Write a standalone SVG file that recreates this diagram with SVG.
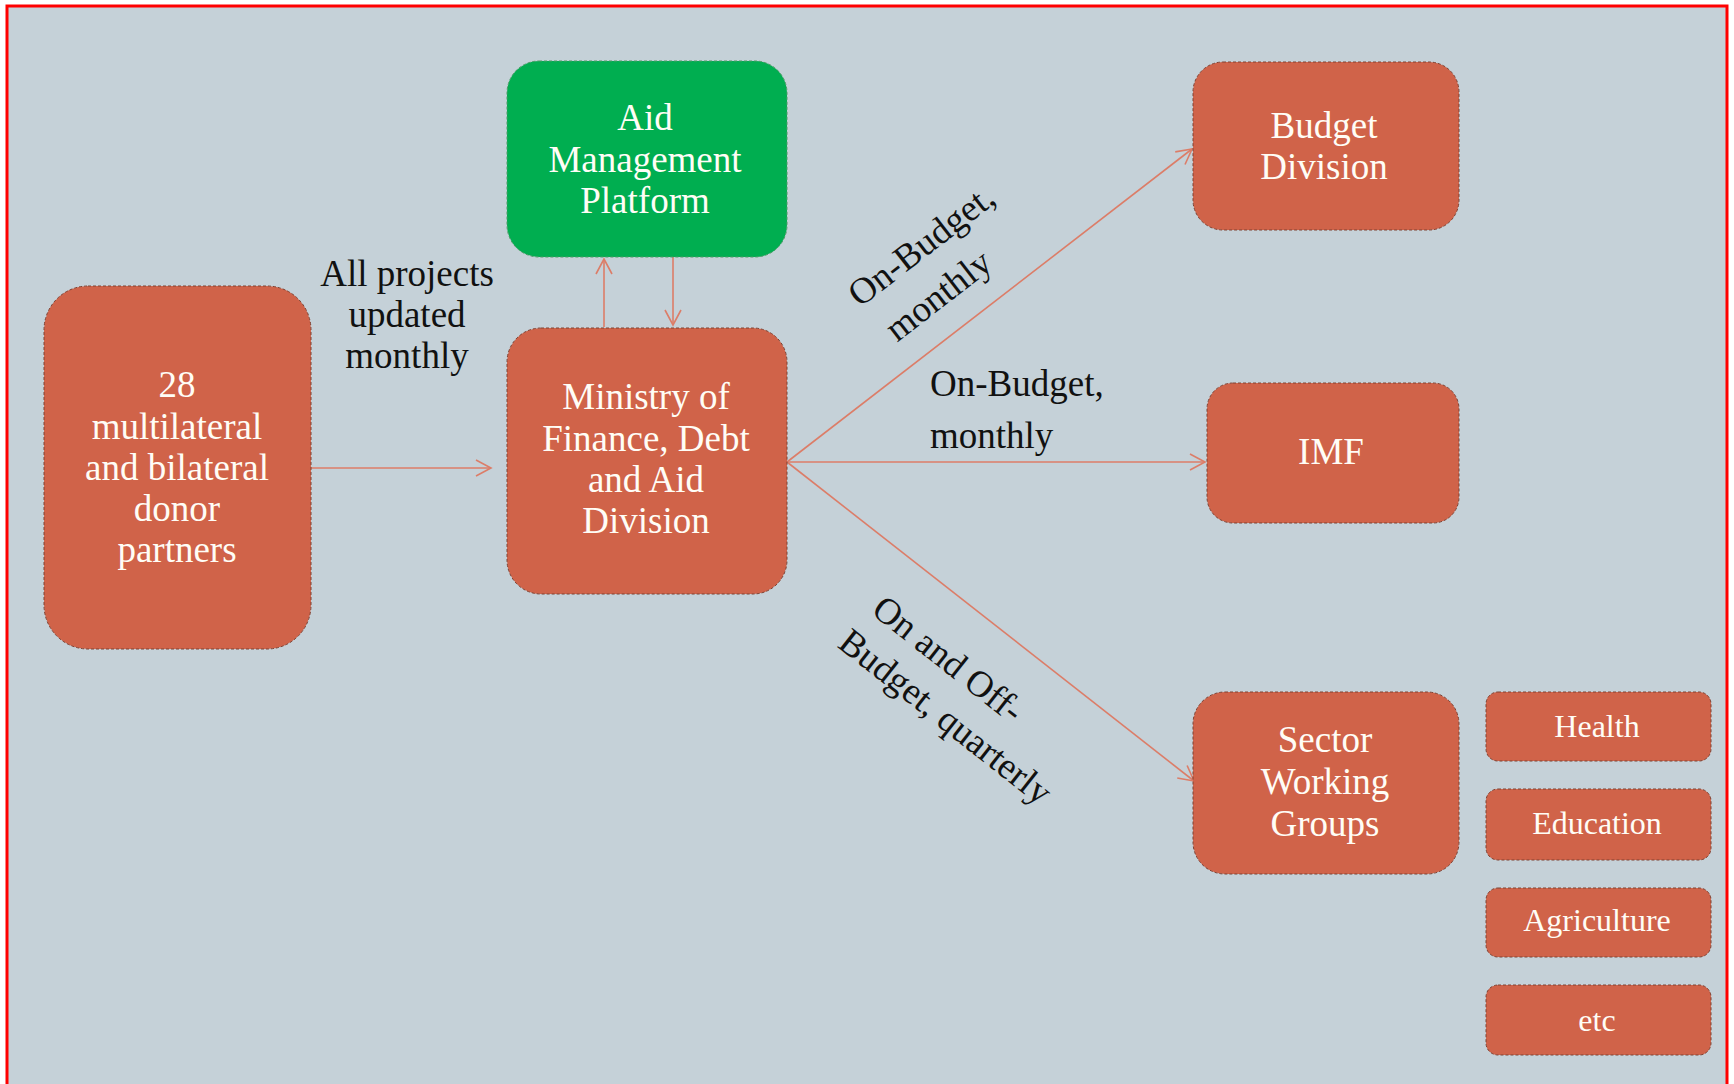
<svg xmlns="http://www.w3.org/2000/svg" width="1734" height="1084" viewBox="0 0 1734 1084">
<defs>
<style>
.box{fill:#D06349;stroke:#7E4233;stroke-width:1;stroke-dasharray:3 2}
.green{fill:#00AE50;stroke:#4E9A66;stroke-width:1;stroke-dasharray:3 2}
.nt{font-family:"Liberation Serif","Times New Roman",serif;font-size:37px;fill:#FFFDF6;text-anchor:middle}
.st{font-family:"Liberation Serif","Times New Roman",serif;font-size:32px;fill:#FFFDF6;text-anchor:middle}
.lb{font-family:"Liberation Serif","Times New Roman",serif;font-size:37px;fill:#111111}
.edge{stroke:#DC7D68;stroke-width:1.6;fill:none;marker-end:url(#ah)}
</style>
<marker id="ah" markerUnits="userSpaceOnUse" markerWidth="20" markerHeight="20" viewBox="-16 -10 20 20" refX="0" refY="0" orient="auto">
<path d="M -15 -8 L 0 0 L -15 8" fill="none" stroke="#DC7D68" stroke-width="1.6"/>
</marker>
</defs>
<rect x="0" y="0" width="1734" height="1084" fill="#FFFFFF"/>
<rect x="7" y="6" width="1720" height="1100" fill="#C5D1D8" stroke="#FF0000" stroke-width="3"/>

<g id="connectors">
<line class="edge" x1="311" y1="468" x2="491" y2="468"/>
<line class="edge" x1="604" y1="327" x2="604" y2="259"/>
<line class="edge" x1="673" y1="257" x2="673" y2="325"/>
<line class="edge" x1="787" y1="462" x2="1192" y2="149"/>
<line class="edge" x1="787" y1="462" x2="1205" y2="462"/>
<line class="edge" x1="787" y1="462" x2="1194" y2="781"/>
</g>

<g id="donors">
<rect class="box" x="44" y="286" width="267" height="363" rx="44"/>
<text class="nt" x="177" y="397">28</text>
<text class="nt" x="177" y="439">multilateral</text>
<text class="nt" x="177" y="480">and bilateral</text>
<text class="nt" x="177" y="521">donor</text>
<text class="nt" x="177" y="562">partners</text>
</g>

<g id="amp">
<rect class="green" x="507" y="61" width="280" height="196" rx="32"/>
<text class="nt" x="645" y="130">Aid</text>
<text class="nt" x="645" y="172">Management</text>
<text class="nt" x="645" y="213">Platform</text>
</g>

<g id="ministry">
<rect class="box" x="507" y="328" width="280" height="266" rx="34"/>
<text class="nt" x="646" y="409">Ministry of</text>
<text class="nt" x="646" y="451">Finance, Debt</text>
<text class="nt" x="646" y="492">and Aid</text>
<text class="nt" x="646" y="533">Division</text>
</g>

<g id="budget">
<rect class="box" x="1193" y="62" width="266" height="168" rx="30"/>
<text class="nt" x="1324" y="138">Budget</text>
<text class="nt" x="1324" y="179">Division</text>
</g>

<g id="imf">
<rect class="box" x="1207" y="383" width="252" height="140" rx="26"/>
<text class="nt" x="1331" y="464">IMF</text>
</g>

<g id="swg">
<rect class="box" x="1193" y="692" width="266" height="182" rx="32"/>
<text class="nt" x="1325" y="752">Sector</text>
<text class="nt" x="1325" y="794">Working</text>
<text class="nt" x="1325" y="836">Groups</text>
</g>

<g id="health">
<rect class="box" x="1486" y="692" width="225" height="69" rx="12"/>
<text class="st" x="1597" y="737">Health</text>
</g>
<g id="education">
<rect class="box" x="1486" y="789" width="225" height="71" rx="12"/>
<text class="st" x="1597" y="834">Education</text>
</g>
<g id="agriculture">
<rect class="box" x="1486" y="888" width="225" height="69" rx="12"/>
<text class="st" x="1597" y="931">Agriculture</text>
</g>
<g id="etc">
<rect class="box" x="1486" y="985" width="225" height="70" rx="12"/>
<text class="st" x="1597" y="1031">etc</text>
</g>

<g id="labels">
<text class="lb" x="407" y="286" text-anchor="middle">All projects</text>
<text class="lb" x="407" y="327" text-anchor="middle">updated</text>
<text class="lb" x="407" y="368" text-anchor="middle">monthly</text>
<g transform="translate(860 308) rotate(-37.7)">
<text class="lb" x="0" y="0">On-Budget,</text>
<text class="lb" x="8" y="50">monthly</text>
</g>
<text class="lb" x="930" y="396">On-Budget,</text>
<text class="lb" x="930" y="448">monthly</text>
<g transform="translate(870 613) rotate(38.2)">
<text class="lb" x="0" y="0">On and Off-</text>
<text class="lb" x="-6" y="47">Budget, quarterly</text>
</g>
</g>
</svg>
